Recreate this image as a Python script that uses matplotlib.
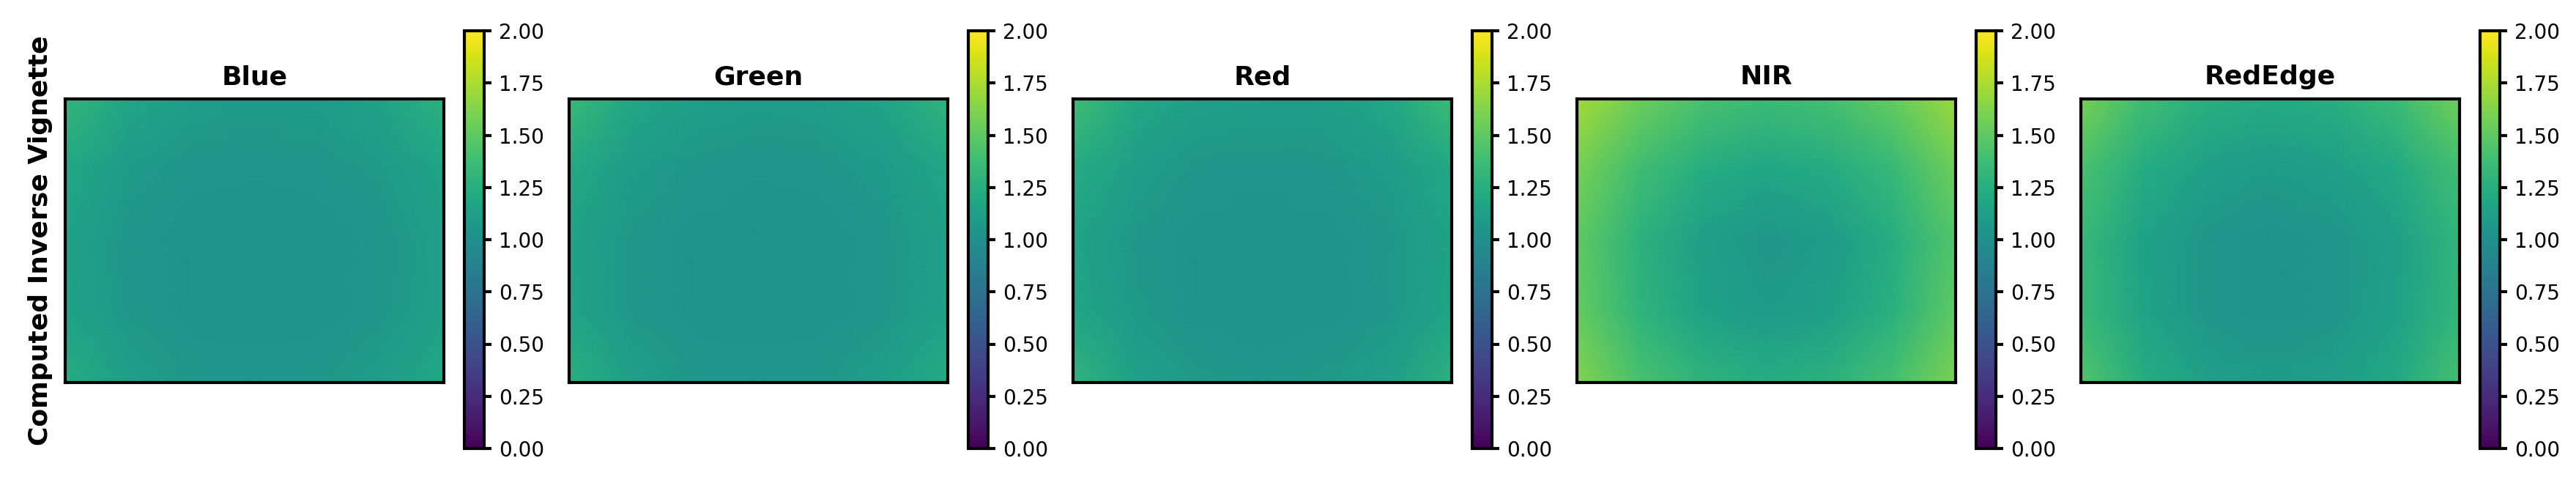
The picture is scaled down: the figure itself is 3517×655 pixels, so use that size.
import numpy as np
import matplotlib
matplotlib.use('Agg')
import matplotlib.pyplot as plt

# inverse vignette values on a coarse grid
# (rows top -> bottom, columns left -> right)
bands = ['Blue', 'Green', 'Red', 'NIR', 'RedEdge']

blue_vals = [[1.32, 1.18, 1.11, 1.09, 1.10, 1.16, 1.28],
             [1.20, 1.09, 1.05, 1.04, 1.05, 1.08, 1.17],
             [1.15, 1.06, 1.03, 1.02, 1.03, 1.05, 1.13],
             [1.16, 1.07, 1.03, 1.02, 1.03, 1.06, 1.14],
             [1.24, 1.12, 1.07, 1.06, 1.07, 1.11, 1.20]]

green_vals = [[1.35, 1.19, 1.12, 1.10, 1.11, 1.17, 1.30],
              [1.21, 1.10, 1.06, 1.04, 1.05, 1.09, 1.18],
              [1.16, 1.07, 1.03, 1.02, 1.03, 1.06, 1.14],
              [1.17, 1.07, 1.03, 1.02, 1.03, 1.06, 1.15],
              [1.26, 1.13, 1.07, 1.06, 1.07, 1.12, 1.22]]

red_vals = [[1.38, 1.20, 1.13, 1.11, 1.12, 1.19, 1.36],
            [1.22, 1.11, 1.06, 1.05, 1.06, 1.10, 1.20],
            [1.17, 1.07, 1.03, 1.02, 1.03, 1.07, 1.16],
            [1.18, 1.08, 1.03, 1.02, 1.03, 1.07, 1.17],
            [1.30, 1.14, 1.08, 1.06, 1.08, 1.13, 1.28]]

nir_vals = [[1.72, 1.55, 1.42, 1.36, 1.40, 1.52, 1.70],
            [1.58, 1.38, 1.24, 1.18, 1.22, 1.34, 1.55],
            [1.50, 1.28, 1.12, 1.06, 1.10, 1.24, 1.46],
            [1.52, 1.30, 1.15, 1.09, 1.13, 1.27, 1.50],
            [1.62, 1.42, 1.29, 1.24, 1.28, 1.40, 1.60]]

rededge_vals = [[1.58, 1.38, 1.26, 1.22, 1.25, 1.36, 1.57],
                [1.42, 1.23, 1.13, 1.09, 1.12, 1.21, 1.39],
                [1.34, 1.15, 1.06, 1.03, 1.05, 1.13, 1.31],
                [1.35, 1.16, 1.06, 1.03, 1.05, 1.14, 1.32],
                [1.45, 1.24, 1.13, 1.10, 1.12, 1.21, 1.40]]

cbar_ticks = [0.0, 0.25, 0.5, 0.75, 1.0, 1.25, 1.5, 1.75, 2.0]

# image size of the sensor (pixels)
img_w, img_h = 1280, 960

plt.rcParams['axes.linewidth'] = 1.5
plt.rcParams['ytick.major.width'] = 1.5
plt.rcParams['xtick.major.width'] = 1.5

W, H = 3517, 655
fig = plt.figure(figsize=(W / 200, H / 200), dpi=200)

all_vals = [blue_vals, green_vals, red_vals, nir_vals, rededge_vals]
for k, (band, vals) in enumerate(zip(bands, all_vals)):
    z = np.array(vals)
    xs = np.linspace(0, img_w, z.shape[1])
    ys = np.linspace(0, img_h, z.shape[0])

    ax = fig.add_axes([(88.8 + 688 * k) / W, 133.5 / H, 517 / W, 387 / H])
    mesh = ax.pcolormesh(xs, ys, z, shading='gouraud', cmap='viridis', vmin=0, vmax=2)
    ax.set_xlim(0, img_w)
    ax.set_ylim(img_h, 0)
    ax.set_xticks([])
    ax.set_yticks([])
    ax.set_title(band, fontsize=13, fontweight='bold', pad=7)

    cax = fig.add_axes([(634.4 + 688 * k) / W, 43 / H, 26.8 / W, 570 / H])
    cb = fig.colorbar(mesh, cax=cax)
    cb.set_ticks(cbar_ticks)
    cb.ax.tick_params(labelsize=10)
    cb.outline.set_linewidth(1.5)

    if k == 0:
        ax.set_ylabel('Computed Inverse Vignette', fontsize=13, fontweight='bold', labelpad=6)

fig.savefig('out.png', dpi=200)
